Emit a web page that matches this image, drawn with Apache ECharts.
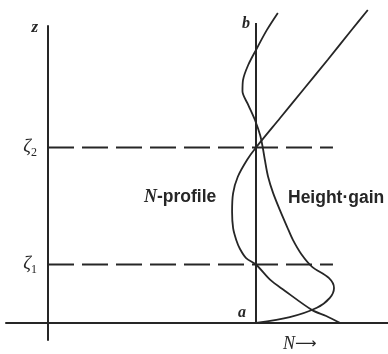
<!DOCTYPE html>
<html>
<head>
<meta charset="utf-8">
<script src="https://cdn.jsdelivr.net/npm/echarts@6/dist/echarts.min.js"></script>
<style>
  html, body { margin: 0; padding: 0; background: #ffffff; }
  #chart { width: 388px; height: 354px; }
</style>
</head>
<body>
<div id="chart"></div>
<script>
// Heights of the two reference levels (in units of ζ1) and their subscripts
const zetaLevels = [1, 3];
const zetaSubs = ['1', '2'];

// Position of the reference line a–b on the N axis, and its height
const refN = 4;
const refTop = 5.13;
const refEnds = ['a', 'b'];

// How far the dashed level lines reach along N
const dashEndN = 5.48;

// N-profile: N against height z
const profileN = [5.62, 5.35, 5.08, 4.54, 4.27, 4.0, 3.81, 3.69, 3.62, 3.56, 3.54, 3.56, 3.65, 3.83, 4.0, 4.46, 4.92, 5.38, 5.83, 6.15];
const profileZ = [0.0, 0.12, 0.22, 0.56, 0.74, 1.0, 1.11, 1.27, 1.42, 1.62, 1.9, 2.22, 2.5, 2.79, 3.0, 3.5, 4.0, 4.5, 5.0, 5.35];

// Height-gain function: amplitude against height z
const gainN = [4.0, 4.65, 5.17, 5.42, 5.5, 5.4, 5.08, 4.87, 4.71, 4.6, 4.46, 4.33, 4.23, 4.17, 4.13, 4.08, 3.98, 3.85, 3.74, 3.75, 3.85, 4.02, 4.21, 4.42];
const gainZ = [0.0, 0.1, 0.26, 0.43, 0.6, 0.77, 0.96, 1.18, 1.42, 1.64, 1.93, 2.22, 2.51, 2.79, 3.0, 3.21, 3.47, 3.73, 3.96, 4.15, 4.41, 4.7, 5.01, 5.3];

const INK = '#262626';
const SERIF = '"Liberation Serif", "DejaVu Serif", serif';
const SANS = '"Liberation Sans", Arial, sans-serif';

const zip = (xs, ys) => xs.map((x, i) => [x, ys[i]]);

// Invisible point markers so that end labels can be attached to a line
const hiddenPoints = {
  symbol: 'circle',
  symbolSize: 2,
  showSymbol: true,
  itemStyle: { color: 'rgba(0,0,0,0)', borderWidth: 0 }
};

const chart = echarts.init(document.getElementById('chart'), null, { renderer: 'canvas' });

// Dashed level lines, each labelled ζ with its subscript at the z axis
const levelSeries = zetaLevels.map((z, k) => ({
  type: 'line',
  data: [[0, z], [dashEndN, z]],
  ...hiddenPoints,
  silent: true,
  clip: false,
  lineStyle: { color: INK, width: 1.8, type: [26, 8] },
  label: {
    show: true,
    position: 'left',
    distance: 10,
    color: INK,
    formatter: p => (p.dataIndex === 0 ? '{g|ζ}{s|' + zetaSubs[k] + '}' : ''),
    rich: {
      g: { fontFamily: SERIF, fontStyle: 'italic', fontSize: 19, color: INK },
      s: { fontFamily: SERIF, fontSize: 12, color: INK, padding: [10, 0, 0, 0] }
    }
  }
}));

chart.setOption({
  animation: false,
  backgroundColor: '#ffffff',
  grid: { left: 6, right: 0, top: 26, bottom: 14, containLabel: false, outerBoundsMode: 'none' },
  xAxis: {
    type: 'value',
    min: -0.8077,
    max: 6.5385,
    axisLine: { onZero: true, lineStyle: { color: INK, width: 2 } },
    axisTick: { show: false },
    axisLabel: { show: false },
    splitLine: { show: false }
  },
  yAxis: {
    type: 'value',
    min: -0.2906,
    max: 5.0769,
    name: 'z',
    nameLocation: 'end',
    nameGap: -2,
    nameTextStyle: {
      fontFamily: SERIF, fontStyle: 'italic', fontWeight: 'bold',
      fontSize: 17, color: INK, align: 'right', verticalAlign: 'middle',
      padding: [0, 10, 0, 0]
    },
    axisLine: { onZero: true, lineStyle: { color: INK, width: 2 } },
    axisTick: { show: false },
    axisLabel: { show: false },
    splitLine: { show: false }
  },
  graphic: [
    {
      type: 'text', left: 144, top: 188, silent: true,
      style: {
        text: '{n|N}{t|-profile}',
        rich: {
          n: { fontFamily: SERIF, fontStyle: 'italic', fontWeight: 'bold', fontSize: 18, fill: INK },
          t: { fontFamily: SANS, fontWeight: 'bold', fontSize: 17.5, fill: INK }
        }
      }
    },
    {
      type: 'text', left: 288, top: 189, silent: true,
      style: { text: 'Height·gain', fontFamily: SANS, fontWeight: 'bold', fontSize: 17.5, fill: INK }
    },
    {
      type: 'text', left: 283, top: 335, silent: true,
      style: {
        text: '{n|N}{a|⟶}',
        rich: {
          n: { fontFamily: SERIF, fontStyle: 'italic', fontSize: 18, fill: INK },
          a: { fontFamily: '"DejaVu Sans", sans-serif', fontSize: 15, fill: INK }
        }
      }
    }
  ],
  series: [
    ...levelSeries,
    {
      type: 'line',
      name: 'reference',
      data: [[refN, 0], [refN, refTop]],
      ...hiddenPoints,
      clip: false,
      silent: true,
      lineStyle: { color: INK, width: 2 },
      label: {
        show: true,
        position: 'left',
        distance: 5,
        fontFamily: SERIF, fontStyle: 'italic', fontWeight: 'bold', fontSize: 16, color: INK,
        formatter: p => refEnds[p.dataIndex]
      },
      labelLayout: p => (p.dataIndex === 0 ? { dy: -10, dx: -4 } : { dy: 1 })
    },
    {
      type: 'line',
      name: 'N-profile',
      data: zip(profileN, profileZ),
      smooth: 0.3,
      symbol: 'none',
      clip: false,
      silent: true,
      lineStyle: { color: INK, width: 1.8 }
    },
    {
      type: 'line',
      name: 'Height-gain',
      data: zip(gainN, gainZ),
      smooth: 0.3,
      symbol: 'none',
      clip: false,
      silent: true,
      lineStyle: { color: INK, width: 1.8 }
    }
  ]
});
</script>
</body>
</html>
